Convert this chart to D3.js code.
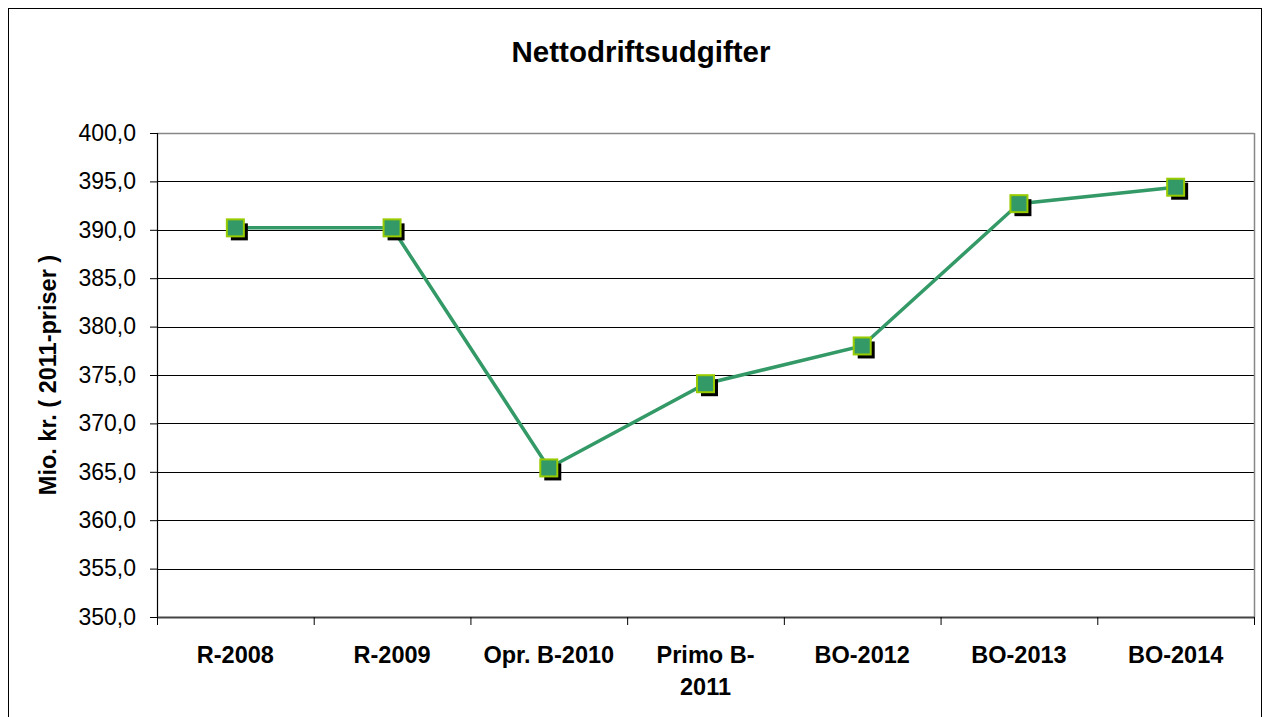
<!DOCTYPE html>
<html><head><meta charset="utf-8">
<script src="https://cdn.jsdelivr.net/npm/d3@7"></script>
<style>body{margin:0;background:#fff}svg{display:block}text{font-family:"Liberation Sans",Arial,sans-serif}</style>
</head><body><svg id="c" width="1266" height="717"></svg>
<script>
const categories = ["R-2008","R-2009","Opr. B-2010","Primo B-\n2011","BO-2012","BO-2013","BO-2014"];
const values = [390.2, 390.2, 365.4, 374.1, 378.0, 392.7, 394.4];
const yTicks = [350,355,360,365,370,375,380,385,390,395,400];
const title = "Nettodriftsudgifter";
const yTitle = "Mio. kr. ( 2011-priser )";

const svg = d3.select("#c");
const L=157, R=1254, T=133, B=617;
const x = d3.scaleBand().domain(categories).range([L,R]);
const y = d3.scaleLinear().domain([350,400]).range([B,T]);

// outer frame
svg.append("rect").attr("x",8.5).attr("y",8.5).attr("width",1253).attr("height",740)
  .attr("fill","#fff").attr("stroke","#000").attr("stroke-width",1);

// gridlines
svg.append("g").selectAll("line").data(yTicks.filter(d=>d>350&&d<400)).join("line")
  .attr("x1",L).attr("x2",R).attr("y1",d=>Math.round(y(d))+0.5).attr("y2",d=>Math.round(y(d))+0.5)
  .attr("stroke","#000").attr("stroke-width",1);
// plot border top/right
svg.append("line").attr("x1",L).attr("x2",R).attr("y1",T+0.5).attr("y2",T+0.5).attr("stroke","#888").attr("stroke-width",1.5);
svg.append("line").attr("x1",R+0.5).attr("x2",R+0.5).attr("y1",T).attr("y2",B).attr("stroke","#888").attr("stroke-width",1.5);

// y axis
const ya = svg.append("g").attr("transform",`translate(${L},0)`)
  .call(d3.axisLeft(y).tickValues(yTicks).tickSize(7).tickPadding(14).tickFormat(d=>d3.format(".1f")(d).replace(".",",")));
ya.select(".domain").attr("stroke","#000").attr("stroke-width",1.2);
ya.selectAll(".tick line").attr("stroke","#000");
ya.selectAll("text").attr("font-size",23).attr("fill","#000").attr("font-family","'Liberation Sans',Arial,sans-serif");

// x axis
const xa = svg.append("g").attr("transform",`translate(0,${B})`)
  .call(d3.axisBottom(x).tickSize(0).tickFormat(""));
xa.select(".domain").attr("stroke","#444").attr("stroke-width",2);
const bounds = [...categories.map(c=>x(c)), R];
svg.append("g").selectAll("line").data(bounds).join("line")
  .attr("x1",d=>d+0.5).attr("x2",d=>d+0.5).attr("y1",B).attr("y2",B+8).attr("stroke","#000");
const xl = svg.append("g").selectAll("text").data(categories).join("text")
  .attr("x",d=>x(d)+x.bandwidth()/2).attr("y",B+46)
  .attr("text-anchor","middle").attr("font-size",23.5).attr("font-weight","bold").attr("fill","#000");
xl.each(function(d){
  const t=d3.select(this);
  d.split("\n").forEach((s,i)=>t.append("tspan").attr("x",x(d)+x.bandwidth()/2).attr("dy",i?32:0).text(s));
});

// line
const cx = (d,i)=>x(categories[i])+x.bandwidth()/2;
svg.append("path").datum(values)
  .attr("d",d3.line().x((d,i)=>cx(d,i)).y(d=>y(d)))
  .attr("fill","none").attr("stroke","#339966").attr("stroke-width",3.5);

// markers with shadow
const s=17;
svg.append("g").selectAll("rect").data(values).join("rect")
  .attr("x",(d,i)=>cx(d,i)-s/2+4).attr("y",d=>y(d)-s/2+4).attr("width",s).attr("height",s).attr("fill","#000");
svg.append("g").selectAll("rect").data(values).join("rect")
  .attr("x",(d,i)=>cx(d,i)-s/2).attr("y",d=>y(d)-s/2).attr("width",s).attr("height",s)
  .attr("fill","#339966").attr("stroke","#99CC00").attr("stroke-width",2);

// titles
svg.append("text").attr("x",641).attr("y",62).attr("text-anchor","middle")
  .attr("font-size",29.5).attr("font-weight","bold").text(title);
svg.append("text").attr("transform",`translate(56,${(T+B)/2}) rotate(-90)`).attr("text-anchor","middle")
  .attr("font-size",23.5).attr("font-weight","bold").text(yTitle);
</script></body></html>
